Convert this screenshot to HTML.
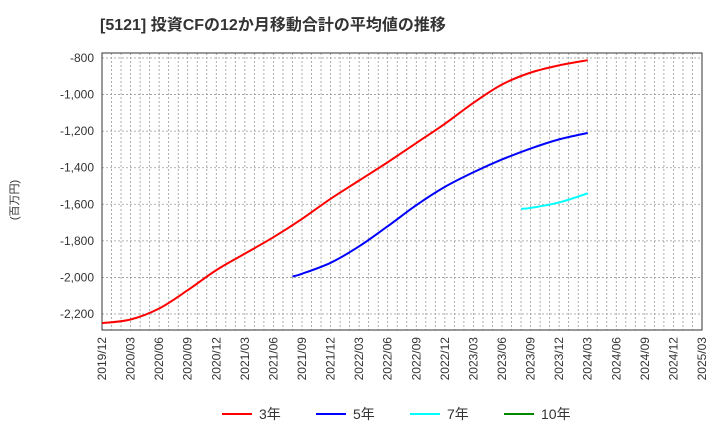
<!DOCTYPE html>
<html><head><meta charset="utf-8"><style>
body{margin:0;background:#fff;font-family:"Liberation Sans","Noto Sans CJK JP",sans-serif;}
</style></head><body>
<svg id="c" width="720" height="440" xmlns="http://www.w3.org/2000/svg">
<text x="100" y="30" font-size="16" font-weight="bold" fill="#333">[5121]  投資CFの12か月移動合計の平均値の推移</text>
<text transform="translate(18,200) rotate(-90)" font-size="11" fill="#333" text-anchor="middle">(百万円)</text>
<g id="grid"></g><g id="axes"></g><g id="series"></g><g id="legend"></g>
</svg>
<script>
const yTicks=[-800,-1000,-1200,-1400,-1600,-1800,-2000,-2200];
const xLabels=["2019/12","2020/03","2020/06","2020/09","2020/12","2021/03","2021/06","2021/09","2021/12","2022/03","2022/06","2022/09","2022/12","2023/03","2023/06","2023/09","2023/12","2024/03","2024/06","2024/09","2024/12","2025/03"];
// month offsets from 2019/12
const redX=[0,3,6,9,12,15,18,21,24,27,30,33,36,39,42,45,48,51];
const redY=[-2250,-2230,-2170,-2070,-1960,-1870,-1780,-1680,-1570,-1470,-1370,-1265,-1160,-1045,-945,-880,-840,-812];
const blueX=[20,21,24,27,30,33,36,39,42,45,48,51];
const blueY=[-1995,-1980,-1920,-1830,-1720,-1605,-1505,-1425,-1355,-1295,-1245,-1210];
const cyanX=[44,45,48,51];
const cyanY=[-1625,-1620,-1590,-1540];
const L=102,R=702,T=53,B=330;
const x=m=>L+(R-L)*m/63;
const y=v=>58-(v+800)*256/1400;
const NS="http://www.w3.org/2000/svg";
function mk(t,a,p){const e=document.createElementNS(NS,t);for(const k in a)e.setAttribute(k,a[k]);p.appendChild(e);return e;}
const g=document.getElementById('grid'),ax=document.getElementById('axes'),s=document.getElementById('series'),lg=document.getElementById('legend');
for(let m=1;m<63;m++){const l=mk('line',{x1:x(m),x2:x(m),y1:T,y2:B,stroke:'#999','stroke-dasharray':'2,2','stroke-width':0.8},g);

}
yTicks.forEach(v=>{const l=mk('line',{x1:L,x2:R,y1:y(v),y2:y(v),stroke:'#999','stroke-dasharray':'2,2','stroke-width':0.8},g);


const t=mk('text',{x:L-8,y:y(v)+4,'text-anchor':'end','font-size':12,fill:'#333'},ax);t.textContent=v.toLocaleString('en-US');

});
xLabels.forEach((lab,i)=>{const t=mk('text',{transform:`translate(${x(i*3)+4},${B+7}) rotate(-90)`,'text-anchor':'end','font-size':12,fill:'#333'},ax);t.textContent=lab;

});
const fr=mk('rect',{x:L,y:T,width:R-L,height:B-T,fill:'none',stroke:'#333','stroke-width':1},ax);


function line(xs,ys,c,name){
const P=xs.map((m,i)=>[x(m),y(ys[i])]);
let d='M'+P[0][0]+','+P[0][1];
for(let i=0;i<P.length-1;i++){const p0=P[Math.max(0,i-1)],p1=P[i],p2=P[i+1],p3=P[Math.min(P.length-1,i+2)];
const c1=[p1[0]+(p2[0]-p0[0])/6,p1[1]+(p2[1]-p0[1])/6],c2=[p2[0]-(p3[0]-p1[0])/6,p2[1]-(p3[1]-p1[1])/6];
d+=` C${c1[0]},${c1[1]} ${c2[0]},${c2[1]} ${p2[0]},${p2[1]}`;}
const p=mk('path',{d:d,fill:'none',stroke:c,'stroke-width':2,'stroke-linejoin':'round'},s);

}
line(redX,redY,'#f00','series-3yr');
line(blueX,blueY,'#00f','series-5yr');
line(cyanX,cyanY,'#0ff','series-7yr');
[['3年','#f00',222],['5年','#00f',316],['7年','#0ff',410],['10年','#080',504]].forEach(([n,c,lx])=>{
const l=mk('line',{x1:lx,x2:lx+30,y1:414,y2:414,stroke:c,'stroke-width':2},lg);


const t=mk('text',{x:lx+37,y:419,'font-size':14,fill:'#333'},lg);t.textContent=n;

});
</script>
</body></html>
